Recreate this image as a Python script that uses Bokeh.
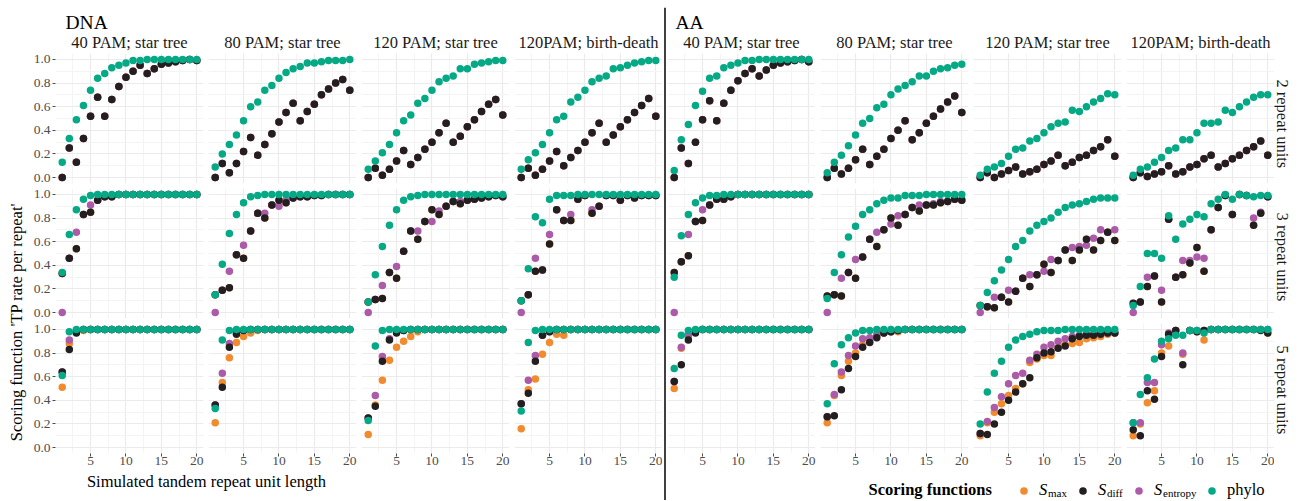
import math
import numpy as np
from bokeh.plotting import figure
from bokeh.layouts import row, column
from bokeh.models import (Range1d, FixedTicker, PrintfTickFormatter, Label,
                          Legend, LegendItem, Span)
from bokeh.embed import file_html
from bokeh.resources import INLINE

FONT = "Liberation Serif"

# ------------------------------------------------------------------ data
unit_length = list(range(1, 21))
data_types = ["DNA", "AA"]
conditions = ["40 PAM; star tree", "80 PAM; star tree", "120 PAM; star tree", "120PAM; birth-death"]
repeat_labels = ["2 repeat units", "3 repeat units", "5 repeat units"]
score_keys = ["smax", "sentropy", "sdiff", "phylo"]          # drawing order
score_colors = {"smax": "#F28A2E", "sentropy": "#AB5BA8", "sdiff": "#231F20", "phylo": "#05A985"}

# ---- DNA, 40 PAM star tree
dna40_r2_sdiff = [0.00, 0.25, 0.13, 0.33, 0.52, 0.68, 0.52, 0.66, 0.77, 0.85, 0.90, 0.95, 0.88, 0.92, 0.96, 0.97, 0.98, 0.99, 1.00, 0.99]
dna40_r2_phylo = [0.13, 0.33, 0.49, 0.61, 0.74, 0.84, 0.88, 0.93, 0.95, 0.97, 0.99, 0.99, 1.00, 1.00, 1.00, 1.00, 1.00, 1.00, 1.00, 1.00]
dna40_r2_smax = [0.00, 0.25, 0.13, 0.33, 0.52, 0.68, 0.52, 0.66, 0.77, 0.85, 0.90, 0.95, 0.88, 0.92, 0.96, 0.97, 0.98, 0.99, 1.00, 0.99]
dna40_r2_sentropy = [0.00, 0.25, 0.13, 0.33, 0.52, 0.68, 0.52, 0.66, 0.77, 0.85, 0.90, 0.95, 0.88, 0.92, 0.96, 0.97, 0.98, 0.99, 1.00, 0.99]
dna40_r3_phylo = [0.34, 0.66, 0.87, 0.96, 0.99, 1.00, 1.00, 1.00, 1.00, 1.00, 1.00, 1.00, 1.00, 1.00, 1.00, 1.00, 1.00, 1.00, 1.00, 1.00]
dna40_r3_sdiff = [0.33, 0.46, 0.54, 0.83, 0.85, 0.95, 0.98, 0.98, 1.00, 1.00, 1.00, 1.00, 1.00, 1.00, 1.00, 1.00, 1.00, 1.00, 1.00, 1.00]
dna40_r3_sentropy = [0.00, 0.46, 0.68, 0.83, 0.91, 0.95, 0.98, 0.98, 1.00, 1.00, 1.00, 1.00, 1.00, 1.00, 1.00, 1.00, 1.00, 1.00, 1.00, 1.00]
dna40_r3_smax = [0.33, 0.46, 0.54, 0.83, 0.85, 0.95, 0.98, 0.98, 1.00, 1.00, 1.00, 1.00, 1.00, 1.00, 1.00, 1.00, 1.00, 1.00, 1.00, 1.00]
dna40_r5_phylo = [0.61, 0.98, 1.00, 1.00, 1.00, 1.00, 1.00, 1.00, 1.00, 1.00, 1.00, 1.00, 1.00, 1.00, 1.00, 1.00, 1.00, 1.00, 1.00, 1.00]
dna40_r5_sdiff = [0.64, 0.83, 0.97, 1.00, 1.00, 1.00, 1.00, 1.00, 1.00, 1.00, 1.00, 1.00, 1.00, 1.00, 1.00, 1.00, 1.00, 1.00, 1.00, 1.00]
dna40_r5_sentropy = [0.64, 0.91, 0.98, 1.00, 1.00, 1.00, 1.00, 1.00, 1.00, 1.00, 1.00, 1.00, 1.00, 1.00, 1.00, 1.00, 1.00, 1.00, 1.00, 1.00]
dna40_r5_smax = [0.51, 0.88, 0.98, 0.99, 1.00, 1.00, 1.00, 1.00, 1.00, 1.00, 1.00, 1.00, 1.00, 1.00, 1.00, 1.00, 1.00, 1.00, 1.00, 1.00]

# ---- DNA, 80 PAM star tree
dna80_r2_sdiff = [0.00, 0.12, 0.04, 0.12, 0.22, 0.34, 0.19, 0.28, 0.37, 0.47, 0.55, 0.63, 0.48, 0.56, 0.62, 0.70, 0.75, 0.80, 0.83, 0.74]
dna80_r2_phylo = [0.09, 0.20, 0.28, 0.36, 0.48, 0.60, 0.64, 0.74, 0.78, 0.84, 0.89, 0.92, 0.94, 0.97, 0.97, 0.98, 0.99, 0.99, 0.99, 1.00]
dna80_r2_smax = [0.00, 0.12, 0.04, 0.12, 0.22, 0.34, 0.19, 0.28, 0.37, 0.47, 0.55, 0.63, 0.48, 0.56, 0.62, 0.70, 0.75, 0.80, 0.83, 0.74]
dna80_r2_sentropy = [0.00, 0.12, 0.04, 0.12, 0.22, 0.34, 0.19, 0.28, 0.37, 0.47, 0.55, 0.63, 0.48, 0.56, 0.62, 0.70, 0.75, 0.80, 0.83, 0.74]
dna80_r3_phylo = [0.15, 0.41, 0.67, 0.83, 0.93, 0.98, 0.99, 1.00, 1.00, 1.00, 1.00, 1.00, 1.00, 1.00, 1.00, 1.00, 1.00, 1.00, 1.00, 1.00]
dna80_r3_sdiff = [0.15, 0.19, 0.21, 0.49, 0.46, 0.69, 0.84, 0.80, 0.91, 0.95, 0.93, 0.97, 0.98, 0.98, 0.99, 0.99, 1.00, 1.00, 1.00, 1.00]
dna80_r3_sentropy = [0.00, 0.19, 0.35, 0.49, 0.57, 0.69, 0.84, 0.84, 0.91, 0.90, 0.95, 0.97, 0.98, 0.98, 0.99, 0.99, 1.00, 1.00, 1.00, 1.00]
dna80_r3_smax = [0.15, 0.19, 0.21, 0.49, 0.46, 0.69, 0.84, 0.80, 0.91, 0.95, 0.93, 0.97, 0.98, 0.98, 0.99, 0.99, 1.00, 1.00, 1.00, 1.00]
dna80_r5_phylo = [0.33, 0.91, 0.99, 1.00, 1.00, 1.00, 1.00, 1.00, 1.00, 1.00, 1.00, 1.00, 1.00, 1.00, 1.00, 1.00, 1.00, 1.00, 1.00, 1.00]
dna80_r5_sdiff = [0.36, 0.51, 0.85, 0.96, 0.99, 1.00, 1.00, 1.00, 1.00, 1.00, 1.00, 1.00, 1.00, 1.00, 1.00, 1.00, 1.00, 1.00, 1.00, 1.00]
dna80_r5_sentropy = [0.36, 0.63, 0.88, 0.97, 0.99, 1.00, 1.00, 1.00, 1.00, 1.00, 1.00, 1.00, 1.00, 1.00, 1.00, 1.00, 1.00, 1.00, 1.00, 1.00]
dna80_r5_smax = [0.21, 0.55, 0.76, 0.89, 0.94, 0.97, 0.99, 1.00, 1.00, 1.00, 1.00, 1.00, 1.00, 1.00, 1.00, 1.00, 1.00, 1.00, 1.00, 1.00]

# ---- DNA, 120 PAM star tree
dna120s_r2_sdiff = [0.00, 0.08, 0.02, 0.07, 0.14, 0.23, 0.11, 0.17, 0.24, 0.30, 0.38, 0.46, 0.30, 0.35, 0.43, 0.49, 0.56, 0.62, 0.66, 0.53]
dna120s_r2_phylo = [0.07, 0.14, 0.21, 0.28, 0.38, 0.48, 0.53, 0.63, 0.67, 0.74, 0.81, 0.84, 0.86, 0.92, 0.92, 0.96, 0.97, 0.98, 0.99, 0.99]
dna120s_r2_smax = [0.00, 0.08, 0.02, 0.07, 0.14, 0.23, 0.11, 0.17, 0.24, 0.30, 0.38, 0.46, 0.30, 0.35, 0.43, 0.49, 0.56, 0.62, 0.66, 0.53]
dna120s_r2_sentropy = [0.00, 0.08, 0.02, 0.07, 0.14, 0.23, 0.11, 0.17, 0.24, 0.30, 0.38, 0.46, 0.30, 0.35, 0.43, 0.49, 0.56, 0.62, 0.66, 0.53]
dna120s_r3_phylo = [0.09, 0.32, 0.56, 0.74, 0.87, 0.95, 0.98, 0.99, 1.00, 1.00, 1.00, 1.00, 1.00, 1.00, 1.00, 1.00, 1.00, 1.00, 1.00, 1.00]
dna120s_r3_sdiff = [0.09, 0.11, 0.12, 0.34, 0.29, 0.52, 0.69, 0.62, 0.77, 0.87, 0.83, 0.90, 0.94, 0.92, 0.95, 0.96, 0.97, 0.98, 0.99, 0.98]
dna120s_r3_sentropy = [0.00, 0.11, 0.23, 0.34, 0.39, 0.52, 0.69, 0.69, 0.77, 0.77, 0.86, 0.90, 0.94, 0.94, 0.95, 0.96, 0.97, 0.98, 0.99, 0.98]
dna120s_r3_smax = [0.09, 0.11, 0.12, 0.34, 0.29, 0.52, 0.69, 0.62, 0.77, 0.87, 0.83, 0.90, 0.94, 0.92, 0.95, 0.96, 0.97, 0.98, 0.99, 0.98]
dna120s_r5_phylo = [0.23, 0.86, 0.99, 1.00, 1.00, 1.00, 1.00, 1.00, 1.00, 1.00, 1.00, 1.00, 1.00, 1.00, 1.00, 1.00, 1.00, 1.00, 1.00, 1.00]
dna120s_r5_sdiff = [0.25, 0.35, 0.73, 0.91, 0.97, 0.99, 1.00, 1.00, 1.00, 1.00, 1.00, 1.00, 1.00, 1.00, 1.00, 1.00, 1.00, 1.00, 1.00, 1.00]
dna120s_r5_sentropy = [0.25, 0.44, 0.77, 0.92, 0.98, 0.99, 1.00, 1.00, 1.00, 1.00, 1.00, 1.00, 1.00, 1.00, 1.00, 1.00, 1.00, 1.00, 1.00, 1.00]
dna120s_r5_smax = [0.11, 0.36, 0.57, 0.74, 0.85, 0.90, 0.94, 0.98, 1.00, 1.00, 1.00, 1.00, 1.00, 1.00, 1.00, 1.00, 1.00, 1.00, 1.00, 1.00]

# ---- DNA, 120 PAM birth-death
dna120b_r2_sdiff = [0.00, 0.08, 0.02, 0.07, 0.14, 0.22, 0.10, 0.17, 0.23, 0.30, 0.38, 0.46, 0.30, 0.36, 0.43, 0.49, 0.55, 0.61, 0.67, 0.52]
dna120b_r2_phylo = [0.07, 0.15, 0.21, 0.28, 0.38, 0.49, 0.52, 0.64, 0.68, 0.74, 0.81, 0.84, 0.86, 0.92, 0.93, 0.95, 0.97, 0.98, 0.99, 0.99]
dna120b_r2_smax = [0.00, 0.08, 0.02, 0.07, 0.14, 0.22, 0.10, 0.17, 0.23, 0.30, 0.38, 0.46, 0.30, 0.36, 0.43, 0.49, 0.55, 0.61, 0.67, 0.52]
dna120b_r2_sentropy = [0.00, 0.08, 0.02, 0.07, 0.14, 0.22, 0.10, 0.17, 0.23, 0.30, 0.38, 0.46, 0.30, 0.36, 0.43, 0.49, 0.55, 0.61, 0.67, 0.52]
dna120b_r3_phylo = [0.10, 0.37, 0.81, 0.76, 0.96, 0.99, 0.99, 0.99, 1.00, 1.00, 1.00, 1.00, 1.00, 1.00, 1.00, 1.00, 1.00, 1.00, 1.00, 1.00]
dna120b_r3_sdiff = [0.10, 0.15, 0.35, 0.36, 0.58, 0.87, 0.78, 0.78, 0.96, 0.99, 0.84, 0.90, 0.99, 0.99, 0.95, 0.99, 0.97, 0.99, 0.99, 0.99]
dna120b_r3_sentropy = [0.00, 0.15, 0.46, 0.36, 0.66, 0.87, 0.78, 0.83, 0.96, 0.99, 0.87, 0.90, 0.99, 0.99, 0.95, 0.99, 0.97, 0.99, 0.99, 0.99]
dna120b_r3_smax = [0.10, 0.15, 0.35, 0.36, 0.58, 0.87, 0.78, 0.78, 0.96, 0.99, 0.84, 0.90, 0.99, 0.99, 0.95, 0.99, 0.97, 0.99, 0.99, 0.99]
dna120b_r5_phylo = [0.31, 0.89, 0.99, 1.00, 1.00, 1.00, 1.00, 1.00, 1.00, 1.00, 1.00, 1.00, 1.00, 1.00, 1.00, 1.00, 1.00, 1.00, 1.00, 1.00]
dna120b_r5_sdiff = [0.37, 0.46, 0.73, 0.95, 0.98, 1.00, 1.00, 1.00, 1.00, 1.00, 1.00, 1.00, 1.00, 1.00, 1.00, 1.00, 1.00, 1.00, 1.00, 1.00]
dna120b_r5_sentropy = [0.37, 0.57, 0.78, 0.95, 0.98, 1.00, 1.00, 1.00, 1.00, 1.00, 1.00, 1.00, 1.00, 1.00, 1.00, 1.00, 1.00, 1.00, 1.00, 1.00]
dna120b_r5_smax = [0.16, 0.49, 0.58, 0.79, 0.89, 0.96, 0.95, 1.00, 1.00, 1.00, 1.00, 1.00, 1.00, 1.00, 1.00, 1.00, 1.00, 1.00, 1.00, 1.00]

# ---- AA, 40 PAM star tree
aa40_r2_sdiff = [0.00, 0.25, 0.12, 0.30, 0.49, 0.65, 0.48, 0.63, 0.74, 0.82, 0.88, 0.92, 0.86, 0.91, 0.95, 0.97, 0.98, 0.99, 1.00, 0.98]
aa40_r2_phylo = [0.06, 0.32, 0.45, 0.61, 0.73, 0.84, 0.86, 0.93, 0.95, 0.97, 0.99, 0.99, 1.00, 1.00, 1.00, 1.00, 1.00, 1.00, 1.00, 1.00]
aa40_r2_smax = [0.00, 0.25, 0.12, 0.30, 0.49, 0.65, 0.48, 0.63, 0.74, 0.82, 0.88, 0.92, 0.86, 0.91, 0.95, 0.97, 0.98, 0.99, 1.00, 0.98]
aa40_r2_sentropy = [0.00, 0.25, 0.12, 0.30, 0.49, 0.65, 0.48, 0.63, 0.74, 0.82, 0.88, 0.92, 0.86, 0.91, 0.95, 0.97, 0.98, 0.99, 1.00, 0.98]
aa40_r3_phylo = [0.30, 0.65, 0.83, 0.93, 0.97, 0.99, 0.99, 1.00, 1.00, 1.00, 1.00, 1.00, 1.00, 1.00, 1.00, 1.00, 1.00, 1.00, 1.00, 1.00]
aa40_r3_sdiff = [0.34, 0.43, 0.48, 0.77, 0.78, 0.91, 0.96, 0.96, 0.98, 1.00, 1.00, 1.00, 1.00, 1.00, 1.00, 1.00, 1.00, 1.00, 1.00, 1.00]
aa40_r3_sentropy = [0.00, 0.43, 0.66, 0.77, 0.87, 0.91, 0.96, 0.96, 0.98, 1.00, 1.00, 1.00, 1.00, 1.00, 1.00, 1.00, 1.00, 1.00, 1.00, 1.00]
aa40_r3_smax = [0.34, 0.43, 0.48, 0.77, 0.78, 0.91, 0.96, 0.96, 0.98, 1.00, 1.00, 1.00, 1.00, 1.00, 1.00, 1.00, 1.00, 1.00, 1.00, 1.00]
aa40_r5_phylo = [0.67, 0.95, 0.99, 1.00, 1.00, 1.00, 1.00, 1.00, 1.00, 1.00, 1.00, 1.00, 1.00, 1.00, 1.00, 1.00, 1.00, 1.00, 1.00, 1.00]
aa40_r5_sdiff = [0.56, 0.70, 0.91, 0.97, 1.00, 1.00, 1.00, 1.00, 1.00, 1.00, 1.00, 1.00, 1.00, 1.00, 1.00, 1.00, 1.00, 1.00, 1.00, 1.00]
aa40_r5_sentropy = [0.56, 0.85, 0.95, 0.99, 1.00, 1.00, 1.00, 1.00, 1.00, 1.00, 1.00, 1.00, 1.00, 1.00, 1.00, 1.00, 1.00, 1.00, 1.00, 1.00]
aa40_r5_smax = [0.50, 0.84, 0.95, 0.99, 1.00, 1.00, 1.00, 1.00, 1.00, 1.00, 1.00, 1.00, 1.00, 1.00, 1.00, 1.00, 1.00, 1.00, 1.00, 1.00]

# ---- AA, 80 PAM star tree
aa80_r2_sdiff = [0.00, 0.08, 0.03, 0.08, 0.15, 0.24, 0.11, 0.18, 0.24, 0.33, 0.40, 0.48, 0.32, 0.38, 0.46, 0.52, 0.58, 0.64, 0.69, 0.55]
aa80_r2_phylo = [0.04, 0.13, 0.19, 0.27, 0.36, 0.46, 0.50, 0.59, 0.62, 0.70, 0.75, 0.78, 0.81, 0.86, 0.86, 0.90, 0.92, 0.93, 0.95, 0.96]
aa80_r2_smax = [0.00, 0.08, 0.03, 0.08, 0.15, 0.24, 0.11, 0.18, 0.24, 0.33, 0.40, 0.48, 0.32, 0.38, 0.46, 0.52, 0.58, 0.64, 0.69, 0.55]
aa80_r2_sentropy = [0.00, 0.08, 0.03, 0.08, 0.15, 0.24, 0.11, 0.18, 0.24, 0.33, 0.40, 0.48, 0.32, 0.38, 0.46, 0.52, 0.58, 0.64, 0.69, 0.55]
aa80_r3_phylo = [0.12, 0.34, 0.49, 0.64, 0.73, 0.83, 0.87, 0.92, 0.95, 0.97, 0.97, 0.99, 0.99, 0.99, 1.00, 1.00, 1.00, 1.00, 1.00, 1.00]
aa80_r3_sdiff = [0.14, 0.15, 0.14, 0.34, 0.29, 0.47, 0.62, 0.56, 0.70, 0.80, 0.74, 0.83, 0.89, 0.86, 0.91, 0.91, 0.93, 0.94, 0.96, 0.95]
aa80_r3_sentropy = [0.00, 0.15, 0.29, 0.34, 0.45, 0.47, 0.62, 0.68, 0.70, 0.75, 0.82, 0.83, 0.89, 0.91, 0.91, 0.92, 0.94, 0.94, 0.96, 0.95]
aa80_r3_smax = [0.14, 0.15, 0.14, 0.34, 0.29, 0.47, 0.62, 0.56, 0.70, 0.80, 0.74, 0.83, 0.89, 0.86, 0.91, 0.91, 0.93, 0.94, 0.96, 0.95]
aa80_r5_phylo = [0.37, 0.71, 0.87, 0.93, 0.97, 0.99, 0.99, 1.00, 1.00, 1.00, 1.00, 1.00, 1.00, 1.00, 1.00, 1.00, 1.00, 1.00, 1.00, 1.00]
aa80_r5_sdiff = [0.26, 0.27, 0.49, 0.67, 0.77, 0.85, 0.89, 0.93, 0.97, 0.98, 0.99, 1.00, 1.00, 1.00, 1.00, 1.00, 1.00, 1.00, 1.00, 1.00]
aa80_r5_sentropy = [0.26, 0.45, 0.64, 0.78, 0.86, 0.92, 0.93, 0.96, 0.97, 0.98, 0.99, 1.00, 1.00, 1.00, 1.00, 1.00, 1.00, 1.00, 1.00, 1.00]
aa80_r5_smax = [0.21, 0.44, 0.61, 0.73, 0.80, 0.87, 0.90, 0.95, 0.97, 0.98, 0.98, 1.00, 1.00, 1.00, 1.00, 1.00, 1.00, 1.00, 1.00, 1.00]

# ---- AA, 120 PAM star tree
aa120s_r2_sdiff = [0.00, 0.04, 0.00, 0.03, 0.06, 0.09, 0.03, 0.05, 0.07, 0.11, 0.14, 0.19, 0.10, 0.13, 0.17, 0.19, 0.23, 0.26, 0.32, 0.18]
aa120s_r2_phylo = [0.02, 0.07, 0.09, 0.12, 0.18, 0.24, 0.25, 0.31, 0.33, 0.38, 0.43, 0.46, 0.47, 0.57, 0.56, 0.60, 0.64, 0.67, 0.71, 0.70]
aa120s_r2_smax = [0.00, 0.04, 0.00, 0.03, 0.06, 0.09, 0.03, 0.05, 0.07, 0.11, 0.14, 0.19, 0.10, 0.13, 0.17, 0.19, 0.23, 0.26, 0.32, 0.18]
aa120s_r2_sentropy = [0.00, 0.04, 0.00, 0.03, 0.06, 0.09, 0.03, 0.05, 0.07, 0.11, 0.14, 0.19, 0.10, 0.13, 0.17, 0.19, 0.23, 0.26, 0.32, 0.18]
aa120s_r3_phylo = [0.06, 0.17, 0.27, 0.36, 0.45, 0.56, 0.61, 0.69, 0.74, 0.77, 0.80, 0.85, 0.89, 0.91, 0.92, 0.94, 0.96, 0.97, 0.97, 0.97]
aa120s_r3_sdiff = [0.06, 0.05, 0.04, 0.13, 0.09, 0.18, 0.29, 0.22, 0.32, 0.41, 0.34, 0.44, 0.53, 0.44, 0.53, 0.62, 0.53, 0.61, 0.68, 0.61]
aa120s_r3_sentropy = [0.00, 0.05, 0.13, 0.13, 0.19, 0.18, 0.29, 0.32, 0.32, 0.35, 0.45, 0.44, 0.53, 0.55, 0.56, 0.57, 0.63, 0.70, 0.68, 0.70]
aa120s_r3_smax = [0.06, 0.05, 0.04, 0.13, 0.09, 0.18, 0.29, 0.22, 0.32, 0.41, 0.34, 0.44, 0.53, 0.44, 0.53, 0.62, 0.53, 0.61, 0.68, 0.61]
aa120s_r5_phylo = [0.20, 0.47, 0.63, 0.73, 0.85, 0.91, 0.94, 0.96, 0.98, 0.99, 0.99, 0.99, 1.00, 1.00, 1.00, 1.00, 1.00, 1.00, 1.00, 1.00]
aa120s_r5_sdiff = [0.12, 0.11, 0.20, 0.30, 0.40, 0.47, 0.54, 0.59, 0.76, 0.80, 0.81, 0.84, 0.86, 0.92, 0.94, 0.95, 0.95, 0.96, 0.97, 0.97]
aa120s_r5_sentropy = [0.12, 0.22, 0.34, 0.43, 0.54, 0.61, 0.63, 0.74, 0.79, 0.85, 0.87, 0.90, 0.92, 0.94, 0.95, 0.96, 0.96, 0.97, 0.97, 0.97]
aa120s_r5_smax = [0.10, 0.21, 0.30, 0.37, 0.44, 0.50, 0.54, 0.72, 0.75, 0.78, 0.78, 0.85, 0.87, 0.88, 0.89, 0.92, 0.93, 0.94, 0.96, 0.97]

# ---- AA, 120 PAM birth-death
aa120b_r2_sdiff = [0.00, 0.04, 0.01, 0.03, 0.05, 0.10, 0.03, 0.05, 0.09, 0.11, 0.16, 0.19, 0.09, 0.12, 0.16, 0.19, 0.23, 0.26, 0.31, 0.19]
aa120b_r2_phylo = [0.02, 0.07, 0.09, 0.13, 0.17, 0.23, 0.25, 0.32, 0.32, 0.38, 0.46, 0.46, 0.47, 0.57, 0.55, 0.60, 0.64, 0.68, 0.70, 0.70]
aa120b_r2_smax = [0.00, 0.04, 0.01, 0.03, 0.05, 0.10, 0.03, 0.05, 0.09, 0.11, 0.16, 0.19, 0.09, 0.12, 0.16, 0.19, 0.23, 0.26, 0.31, 0.19]
aa120b_r2_sentropy = [0.00, 0.04, 0.01, 0.03, 0.05, 0.10, 0.03, 0.05, 0.09, 0.11, 0.16, 0.19, 0.09, 0.12, 0.16, 0.19, 0.23, 0.26, 0.31, 0.19]
aa120b_r3_phylo = [0.06, 0.22, 0.50, 0.50, 0.46, 0.82, 0.62, 0.75, 0.79, 0.83, 0.81, 0.92, 0.96, 1.00, 0.96, 1.00, 0.99, 0.98, 0.99, 0.99]
aa120b_r3_sdiff = [0.08, 0.09, 0.22, 0.31, 0.09, 0.79, 0.30, 0.32, 0.42, 0.55, 0.35, 0.70, 0.89, 0.99, 0.83, 1.00, 0.99, 0.74, 0.84, 0.98]
aa120b_r3_sentropy = [0.00, 0.09, 0.30, 0.31, 0.19, 0.79, 0.30, 0.44, 0.44, 0.47, 0.46, 0.70, 0.89, 0.99, 0.83, 1.00, 0.99, 0.80, 0.85, 0.98]
aa120b_r3_smax = [0.08, 0.09, 0.22, 0.31, 0.09, 0.79, 0.30, 0.32, 0.42, 0.55, 0.35, 0.70, 0.89, 0.99, 0.83, 1.00, 0.99, 0.74, 0.84, 0.98]
aa120b_r5_phylo = [0.21, 0.45, 0.59, 0.75, 0.90, 0.92, 0.95, 0.95, 0.99, 0.99, 0.97, 1.00, 1.00, 1.00, 1.00, 1.00, 1.00, 1.00, 1.00, 1.00]
aa120b_r5_sdiff = [0.15, 0.10, 0.48, 0.41, 0.77, 0.96, 0.99, 0.70, 0.99, 0.98, 0.99, 1.00, 1.00, 1.00, 1.00, 1.00, 1.00, 1.00, 0.99, 0.97]
aa120b_r5_sentropy = [0.21, 0.21, 0.55, 0.55, 0.87, 0.97, 0.99, 0.80, 0.99, 0.99, 0.99, 1.00, 1.00, 1.00, 1.00, 1.00, 1.00, 1.00, 1.00, 1.00]
aa120b_r5_smax = [0.10, 0.20, 0.38, 0.48, 0.80, 0.86, 0.99, 0.79, 0.99, 0.98, 0.91, 1.00, 1.00, 1.00, 1.00, 1.00, 1.00, 1.00, 1.00, 0.97]

_g = globals()
prefixes = [["dna40", "dna80", "dna120s", "dna120b"], ["aa40", "aa80", "aa120s", "aa120b"]]
repeat_tags = ["r2", "r3", "r5"]


def panel_series(di, ci, ri):
    out = {}
    for k in score_keys:
        vals = _g[f"{prefixes[di][ci]}_{repeat_tags[ri]}_{k}"]
        assert len(vals) == 20, (prefixes[di][ci], repeat_tags[ri], k, len(vals))
        out[k] = vals
    return out


# ------------------------------------------------------------------ layout constants (px)
FW, FH = 148, 130            # panel frame
GAP = 5                      # gap between panels
PAD_TOP = 2                  # part of the vertical gap above each frame
PAD_BOT = GAP - PAD_TOP      # part of the vertical gap below each frame
HEADER_H = 53 - PAD_TOP      # titles above the panels
BOTTOM_AXIS = 19             # x tick labels under last row
YAXIS_W = 25                 # y tick labels left of DNA column 1
BOTTOM_H = 28                # axis title / legend strip
YLAB_W = 30
STRIP_W = 26
TOTAL_H = HEADER_H + 3 * (PAD_TOP + FH) + 2 * PAD_BOT + BOTTOM_AXIS + BOTTOM_H   # 500
TICK_COLOR = "#4D4D4D"
STRIP_COLOR = "#1A1A1A"


def style_axis(ax, ticks):
    ax.ticker = FixedTicker(ticks=ticks)
    ax.axis_line_color = None
    ax.major_tick_line_color = TICK_COLOR
    ax.major_tick_out = 3
    ax.major_tick_in = 0
    ax.minor_tick_line_color = None
    ax.major_label_text_font = FONT
    ax.major_label_text_font_size = "13.5px"
    ax.major_label_text_color = TICK_COLOR


def make_panel(di, ci, ri):
    left = YAXIS_W if (di == 0 and ci == 0) else 0
    right = GAP if ci < 3 else 0
    bottom = BOTTOM_AXIS if ri == 2 else PAD_BOT
    p = figure(frame_width=FW, frame_height=FH,
               x_range=Range1d(0.05, 20.95), y_range=Range1d(-0.05, 1.05),
               x_axis_location="below" if ri == 2 else None,
               y_axis_location="left" if left else None,
               min_border_left=left, min_border_right=right,
               min_border_top=PAD_TOP, min_border_bottom=bottom,
               title=None, output_backend="svg", toolbar_location=None)
    p.outline_line_color = None
    p.background_fill_color = "white"
    p.border_fill_color = "white"

    for g in p.xgrid:
        g.ticker = FixedTicker(ticks=[5, 10, 15, 20], minor_ticks=[2.5, 7.5, 12.5, 17.5])
    for g in p.ygrid:
        g.ticker = FixedTicker(ticks=[0, 0.2, 0.4, 0.6, 0.8, 1.0], minor_ticks=[0.1, 0.3, 0.5, 0.7, 0.9])
    for g in list(p.xgrid) + list(p.ygrid):
        g.grid_line_color = "#EBEBEB"
        g.grid_line_width = 1.2
        g.minor_grid_line_color = "#F4F4F4"
        g.minor_grid_line_width = 1.0

    if ri == 2:
        ax = p.xaxis[0]
        style_axis(ax, [5, 10, 15, 20])
        ax.major_label_standoff = 0
    if left:
        ax = p.yaxis[0]
        style_axis(ax, [0, 0.2, 0.4, 0.6, 0.8, 1.0])
        ax.formatter = PrintfTickFormatter(format="%.1f")
        ax.major_label_standoff = 2

    series = panel_series(di, ci, ri)
    for k in score_keys:
        p.scatter(unit_length, series[k], size=7.5, fill_color=score_colors[k],
                  line_color=None)
    return p


def blank_fig(w, h, **kw):
    f = figure(width=w, height=h, x_range=Range1d(0, w), y_range=Range1d(0, h),
               x_axis_location=None, y_axis_location=None, min_border=0,
               title=None, output_backend="svg", toolbar_location=None, **kw)
    f.outline_line_color = None
    f.grid.visible = False
    f.background_fill_color = "white"
    f.border_fill_color = "white"
    return f


def header_fig(di, w, frame_x0):
    f = blank_fig(w, HEADER_H)
    f.add_layout(Label(x=frame_x0 + (10 if di == 0 else 8), y=HEADER_H - 21.7,
                       text=data_types[di], text_align="left", text_baseline="middle",
                       text_font=FONT, text_font_size="19.5px", text_color="black"))
    for ci in range(4):
        cx = frame_x0 + ci * (FW + GAP) + FW / 2
        f.add_layout(Label(x=cx, y=HEADER_H - 41.6, text=conditions[ci],
                           text_align="center", text_baseline="middle",
                           text_font=FONT, text_font_size="16.5px", text_color=STRIP_COLOR))
    return f


# left y-axis title
ylab_fig = blank_fig(YLAB_W, TOTAL_H)
ylab_fig.add_layout(Label(x=16, y=TOTAL_H - 319, text="Scoring function 'TP rate per repeat'",
                          angle=math.pi / 2, text_align="center", text_baseline="middle",
                          text_font=FONT, text_font_size="16.5px", text_color="black"))

# DNA block
dna_w = YAXIS_W + 4 * FW + 3 * GAP
dna_rows = [row(*[make_panel(0, ci, ri) for ci in range(4)], spacing=0) for ri in range(3)]
xlab_fig = blank_fig(dna_w, BOTTOM_H)
xlab_fig.add_layout(Label(x=176, y=18.6, text="Simulated tandem repeat unit length",
                          text_align="center", text_baseline="middle",
                          text_font=FONT, text_font_size="16.5px", text_color="black"))
dna_block = column(header_fig(0, dna_w, YAXIS_W), *dna_rows, xlab_fig, spacing=0)

# separator line between DNA and AA
vline_fig = figure(width=GAP, height=TOTAL_H, x_range=Range1d(0, 1), y_range=Range1d(0, 1),
                   x_axis_location=None, y_axis_location=None, min_border=0, min_border_top=7,
                   title=None, output_backend="svg", toolbar_location=None)
vline_fig.outline_line_color = None
vline_fig.grid.visible = False
vline_fig.add_layout(Span(location=0.5, dimension="height", line_color="black", line_width=1.5))

# AA block
aa_w = 4 * FW + 3 * GAP
aa_rows = [row(*[make_panel(1, ci, ri) for ci in range(4)], spacing=0) for ri in range(3)]
leg_fig = blank_fig(aa_w, BOTTOM_H)
leg_fig.add_layout(Label(x=201, y=11.3, text="Scoring functions", text_align="left",
                         text_baseline="middle", text_font=FONT, text_font_size="16.5px",
                         text_font_style="bold", text_color="black"))
legend_order = ["smax", "sdiff", "sentropy", "phylo"]
legend_main = {"smax": "S", "sdiff": "S", "sentropy": "S", "phylo": "phylo"}
legend_sub = {"smax": "max", "sdiff": "diff", "sentropy": "entropy"}
legend_x0 = {"smax": 347, "sdiff": 406, "sentropy": 462, "phylo": 535}
GW = 19
STANDOFF = 6
KEY_Y = 9.5
for k in legend_order:
    r = leg_fig.scatter(x=np.array([np.nan]), y=np.array([np.nan]), size=7.5,
                        fill_color=score_colors[k], line_color=None)
    lg = Legend(items=[LegendItem(label=legend_main[k], renderers=[r])],
                location=(legend_x0[k], KEY_Y - GW / 2), orientation="horizontal",
                glyph_width=GW, glyph_height=GW, label_standoff=STANDOFF, label_height=GW,
                padding=0, margin=0, spacing=0, border_line_color=None,
                background_fill_alpha=0, label_text_font=FONT, label_text_font_size="16.5px",
                label_text_font_style="italic" if k != "phylo" else "normal",
                label_text_color="black", label_text_baseline="middle")
    leg_fig.add_layout(lg, "center")
    if k in legend_sub:
        leg_fig.add_layout(Label(x=legend_x0[k] + GW + STANDOFF + 8.5, y=7.2,
                                 text=legend_sub[k], text_align="left",
                                 text_baseline="middle", text_font=FONT,
                                 text_font_size="11px", text_color="black"))
aa_block = column(header_fig(1, aa_w, 0), *aa_rows, leg_fig, spacing=0)

# right strip with repeat-unit labels
strip_fig = blank_fig(STRIP_W, TOTAL_H)
for ri in range(3):
    cy = 53 + ri * (FH + GAP) + FH / 2
    strip_fig.add_layout(Label(x=8, y=TOTAL_H - cy, text=repeat_labels[ri], angle=-math.pi / 2,
                               text_align="center", text_baseline="middle",
                               text_font=FONT, text_font_size="16.5px", text_color=STRIP_COLOR))

layout = row(ylab_fig, dna_block, vline_fig, aa_block, strip_fig, spacing=0)

open("out.html", "w").write(file_html(layout, INLINE))
